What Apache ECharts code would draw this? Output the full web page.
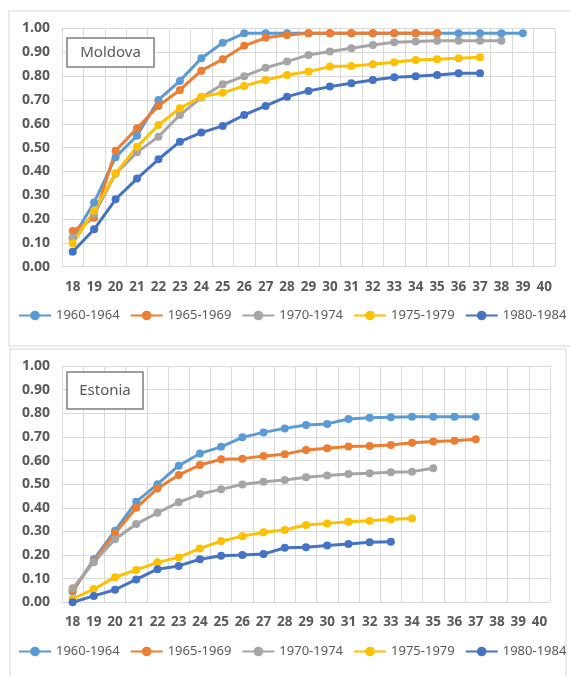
<!DOCTYPE html>
<html>
<head>
<meta charset="utf-8">
<script src="https://cdn.jsdelivr.net/npm/echarts@6/dist/echarts.min.js"></script>
<style>
html,body{margin:0;padding:0;background:#fff;}
#c{width:570px;height:677px;}
</style>
</head>
<body>
<div id="c"></div>
<script>
// ---- data ----
var ages = ['18','19','20','21','22','23','24','25','26','27','28','29','30','31','32','33','34','35','36','37','38','39','40'];
var seriesNames = ['1960-1964','1965-1969','1970-1974','1975-1979','1980-1984'];
var yTicks = ['0.00','0.10','0.20','0.30','0.40','0.50','0.60','0.70','0.80','0.90','1.00'];

// Moldova
var m1960 = [0.12,0.27,0.46,0.55,0.70,0.78,0.875,0.94,0.98,0.98,0.98,0.98,0.98,0.98,0.98,0.98,0.98,0.98,0.98,0.98,0.98,0.98];
var m1965 = [0.15,0.205,0.487,0.581,0.675,0.742,0.823,0.871,0.928,0.961,0.973,0.98,0.98,0.98,0.98,0.98,0.98,0.98];
var m1970 = [0.12,0.22,0.39,0.48,0.546,0.637,0.71,0.766,0.80,0.835,0.861,0.889,0.903,0.917,0.931,0.942,0.945,0.949,0.949,0.949,0.949];
var m1975 = [0.098,0.235,0.392,0.504,0.595,0.665,0.714,0.73,0.759,0.784,0.805,0.819,0.84,0.843,0.85,0.858,0.868,0.871,0.875,0.879];
var m1980 = [0.063,0.157,0.283,0.37,0.451,0.525,0.563,0.591,0.637,0.675,0.714,0.738,0.756,0.77,0.784,0.795,0.80,0.805,0.812,0.812];

// Estonia
var e1960 = [0.045,0.182,0.303,0.425,0.50,0.578,0.63,0.658,0.698,0.719,0.736,0.75,0.755,0.776,0.781,0.783,0.785,0.785,0.785,0.785];
var e1965 = [0.05,0.175,0.292,0.40,0.482,0.539,0.581,0.605,0.608,0.619,0.627,0.645,0.652,0.659,0.661,0.666,0.675,0.68,0.684,0.69];
var e1970 = [0.059,0.17,0.267,0.331,0.379,0.423,0.458,0.478,0.499,0.51,0.518,0.529,0.537,0.543,0.546,0.55,0.553,0.567];
var e1975 = [0.015,0.056,0.106,0.137,0.169,0.19,0.228,0.259,0.28,0.296,0.306,0.327,0.334,0.341,0.345,0.351,0.355];
var e1980 = [0.0,0.027,0.053,0.097,0.14,0.154,0.182,0.197,0.2,0.204,0.231,0.233,0.24,0.247,0.254,0.256];

var colors = ['#5B9BD5','#ED7D31','#A5A5A5','#FFC000','#4472C4'];
var FONT = 'Noto Sans';
var TXT = '#595959';
var GRIDC = '#d9d9d9';

var moldova = [m1960,m1965,m1970,m1975,m1980];
var estonia = [e1960,e1965,e1970,e1975,e1980];

function xAxis(gi){
  return {
    type:'category', gridIndex:gi, data:ages, boundaryGap:true,
    axisLine:{show:true,lineStyle:{color:GRIDC,width:1}},
    axisTick:{show:false},
    axisLabel:{color:TXT,fontFamily:FONT,fontSize:13.5,fontWeight:'bold',margin:13,interval:0},
    splitLine:{show:true,interval:0,lineStyle:{color:GRIDC,width:1}}
  };
}
function yAxis(gi){
  return {
    type:'value', gridIndex:gi, min:0, max:1, interval:0.1,
    axisLine:{show:false}, axisTick:{show:false},
    axisLabel:{color:TXT,fontFamily:FONT,fontSize:14,fontWeight:'bold',margin:12,
      formatter:function(v){ return yTicks[Math.round(v*10)]; }},
    splitLine:{show:true,lineStyle:{color:GRIDC,width:1}}
  };
}
var series = [];
[moldova, estonia].forEach(function(set, gi){
  set.forEach(function(arr, i){
    series.push({
      name: seriesNames[i], type:'line', xAxisIndex:gi, yAxisIndex:gi,
      data: arr, symbol:'circle', symbolSize:8, showSymbol:true,
      color: colors[i],
      lineStyle:{width:3,color:colors[i]},
      itemStyle:{color:colors[i]},
      animation:false
    });
  });
});
function legend(top){
  return {
    top: top, left: 18, width: 560, padding: 0,
    itemWidth: 32, itemHeight: 12, itemGap: 10,
    data: seriesNames,
    textStyle:{color:TXT,fontFamily:FONT,fontSize:13},
    selectedMode:false
  };
}
var chart = echarts.init(document.getElementById('c'), null, {renderer:'canvas'});
chart.setOption({
  animation:false,
  backgroundColor:'#fff',
  grid:[
    {left:62, top:28.5, width:493, height:238.2},
    {left:62, top:366, width:488, height:236.3}
  ],
  xAxis:[xAxis(0), xAxis(1)],
  yAxis:[yAxis(0), yAxis(1)],
  legend:[legend(309), legend(645)],
  series: series,
  graphic:[
    {type:'rect', shape:{x:9,y:11,width:570,height:335}, style:{fill:'none',stroke:'#e3e3e3',lineWidth:1.5}, z:-10, silent:true},
    {type:'rect', shape:{x:10,y:349,width:556,height:340}, style:{fill:'none',stroke:'#e3e3e3',lineWidth:1.5}, z:-10, silent:true},
    {type:'rect', shape:{x:67,y:38,width:87,height:29}, style:{fill:'#fff',stroke:'#7f7f7f',lineWidth:1.5}, z:50, silent:true},
    {type:'text', x:110.5, y:52.5, style:{text:'Moldova',fill:TXT,font:'15px "Noto Sans"',align:'center',verticalAlign:'middle'}, z:51, silent:true},
    {type:'rect', shape:{x:67,y:372,width:76,height:37}, style:{fill:'#fff',stroke:'#7f7f7f',lineWidth:1.5}, z:50, silent:true},
    {type:'text', x:105, y:390.5, style:{text:'Estonia',fill:TXT,font:'15px "Noto Sans"',align:'center',verticalAlign:'middle'}, z:51, silent:true}
  ]
});
</script>
</body>
</html>
